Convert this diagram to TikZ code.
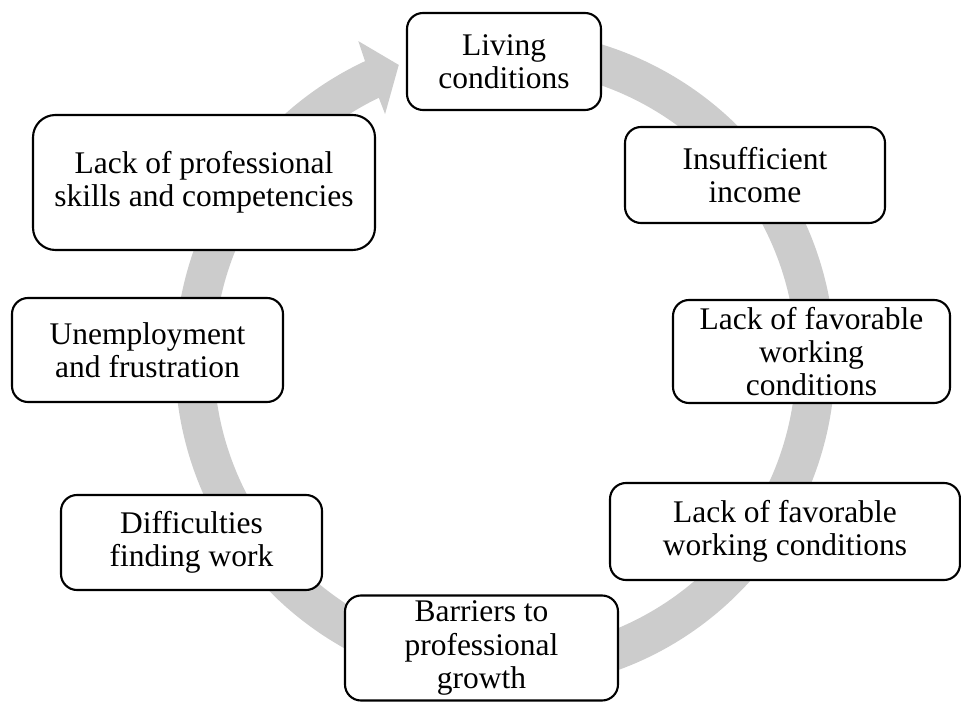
\documentclass[tikz,border=0pt]{standalone}
\usepackage{fontspec}
\setmainfont{Liberation Serif}
\usepackage{tikz}
\usetikzlibrary{calc,positioning}
\definecolor{ringgray}{RGB}{204,204,204}

\begin{document}
\begin{tikzpicture}[
    font=\fontsize{22.4}{23.5}\selectfont,
    causebox/.style={draw, line width=1.5pt, rounded corners=0.4cm, fill=white, align=center, inner sep=2pt},
    ring/.style={fill=ringgray}
]
\useasboundingbox (0,0) rectangle (24.025,17.55);
\coordinate (ctr) at (12.625,8.55);

% Cycle arrow
\fill[ring] ($(ctr)+(100:8.25)$) arc[start angle=100, end angle=-244.9, radius=8.25]
    -- ($(ctr)+(-245.3:8.775)$) -- ($(ctr)+(-250.2:7.84)$) -- ($(ctr)+(-244:6.84)$)
    -- ($(ctr)+(-244.3:7.275)$) arc[start angle=-244.3, end angle=100, radius=7.275] -- cycle;

% Boxes
\node[causebox, minimum width=4.85cm, minimum height=2.425cm] (living) at (12.6,16.0125) {Living\\conditions};
\node[causebox, minimum width=6.5cm, minimum height=2.4cm] (income) at (18.875,13.175) {Insufficient\\income};
\node[causebox, minimum width=6.925cm, minimum height=2.575cm] (favthree) at (20.2875,8.7625) {Lack of favorable\\working\\conditions};
\node[causebox, minimum width=8.75cm, minimum height=2.425cm] (favtwo) at (19.625,4.2625) {Lack of favorable\\working conditions};
\node[causebox, minimum width=6.825cm, minimum height=2.625cm] (barriers) at (12.0375,1.35) {Barriers to\\professional\\growth};
\node[causebox, minimum width=6.525cm, minimum height=2.375cm] (finding) at (4.7875,3.9875) {Difficulties\\finding work};
\node[causebox, minimum width=6.775cm, minimum height=2.6cm] (unemp) at (3.6875,8.8) {Unemployment\\and frustration};
\node[causebox, minimum width=8.55cm, minimum height=3.375cm, rounded corners=0.56cm] (skills) at (5.1,12.9875) {Lack of professional\\skills and competencies};
\end{tikzpicture}
\end{document}
